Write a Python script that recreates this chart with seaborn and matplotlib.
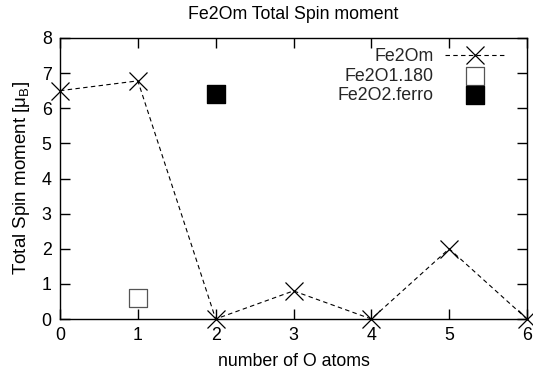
import numpy as np
import pandas as pd
import matplotlib
matplotlib.use("Agg")
import matplotlib.pyplot as plt
import seaborn as sns

# data
n_atoms = [0, 1, 2, 3, 4, 5, 6]
spin_fe2om = [6.5, 6.78, 0.0, 0.8, 0.0, 2.0, 0.0]
x_180 = [1]
spin_180 = [0.6]
x_ferro = [2]
spin_ferro = [6.4]

sns.set_theme(style="ticks")
plt.rcParams['font.family'] = ['Liberation Sans', 'DejaVu Sans']
plt.rcParams['mathtext.fontset'] = 'custom'
plt.rcParams['mathtext.rm'] = 'Liberation Sans'
plt.rcParams.update({
    'xtick.direction': 'in', 'ytick.direction': 'in',
    'xtick.top': True, 'ytick.right': True,
    'xtick.bottom': True, 'ytick.left': True,
    'xtick.major.size': 7, 'ytick.major.size': 7,
    'xtick.major.width': 1.0, 'ytick.major.width': 1.0,
    'xtick.color': 'black', 'ytick.color': 'black',
})
nfont = 12.8

fig = plt.figure(figsize=(5.33, 3.78), dpi=100)
ax = fig.add_axes([60 / 533, 59 / 378, 467 / 533, 281 / 378])

df = pd.DataFrame({"n": n_atoms, "spin": spin_fe2om})
sns.lineplot(data=df, x="n", y="spin", ax=ax, color="black", linewidth=0.8,
             linestyle=(0, (4, 3)), marker="x", markersize=13, markeredgewidth=0.9,
             markeredgecolor="black", label="Fe2Om", clip_on=False, zorder=4)
sns.scatterplot(x=x_180, y=spin_180, ax=ax, marker="s", s=150, facecolor="white",
                edgecolor="#555555", linewidth=0.9, label="Fe2O1.180", zorder=3)
ax.plot(x_180, spin_180, linestyle="none", marker=".", markersize=1.5, color="black")
sns.scatterplot(x=x_ferro, y=spin_ferro, ax=ax, marker="s", s=150, color="black",
                edgecolor="black", label="Fe2O2.ferro", zorder=3)

ax.set_xlim(0, 6)
ax.set_ylim(0, 8)
ax.set_xticks(range(0, 7))
ax.set_yticks(range(0, 9))
ax.tick_params(which="major", direction="in", bottom=True, left=True, top=True, right=True,
               length=7, width=1.0, color="black", labelsize=nfont, labelcolor="black", pad=6)
ax.minorticks_off()
for s in ax.spines.values():
    s.set_visible(True)
    s.set_color("black")
    s.set_linewidth(1.0)

ax.set_xlabel("number of O atoms", fontsize=nfont, color="black", labelpad=6)
ax.set_ylabel(r"Total Spin moment [μ$_\mathrm{B}$]", fontsize=13.5, color="black", labelpad=7)
ax.set_title("Fe2Om Total Spin moment", fontsize=nfont, color="black", pad=14)

leg = ax.legend(loc="upper right", bbox_to_anchor=(0.953, 0.963), frameon=False,
                markerfirst=False, fontsize=nfont, handlelength=3.4, borderaxespad=0,
                borderpad=0, labelspacing=0.12, handletextpad=0.6)
for t in leg.get_texts():
    t.set_ha("right")

fig.savefig("out.png", dpi=100)
